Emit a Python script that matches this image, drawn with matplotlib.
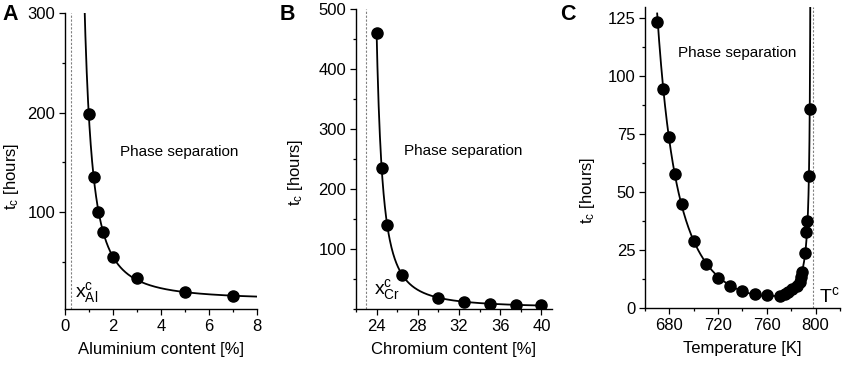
import numpy as np
import matplotlib
matplotlib.use("Agg")
import matplotlib.pyplot as plt
from matplotlib.ticker import MultipleLocator

plt.rcParams['font.family'] = ['Liberation Sans', 'DejaVu Sans']
plt.rcParams['mathtext.fontset'] = 'custom'
plt.rcParams['mathtext.rm'] = 'Liberation Sans'
plt.rcParams['mathtext.it'] = 'Liberation Sans'
plt.rcParams['mathtext.default'] = 'regular'

# data
al_x = [1.0, 1.2, 1.4, 1.6, 2.0, 3.0, 5.0, 7.0]
al_t = [199, 135, 100, 80, 55, 33, 19, 15.5]
al_xc = 0.25

cr_x = [24.0, 24.5, 25.0, 26.5, 30.0, 32.5, 35.0, 37.5, 40.0]
cr_t = [460, 235, 141, 57, 19.5, 12.5, 9, 7.5, 6.5]
cr_xc = 23.0

temp_T = [670, 675, 680, 685, 690, 700, 710, 720, 730, 740, 750, 760,
          771, 775, 777.5, 781, 784.5, 787, 788, 789,
          791, 792.5, 793.3, 794.5, 795.3]
temp_t = [123.5, 94.5, 74, 58, 45, 29.2, 19.1, 13.1, 9.6, 7.5, 6.0, 5.7,
          5.5, 6.3, 7.0, 8.2, 9.5, 11.5, 13.5, 15.8,
          23.7, 33, 37.7, 57, 86]
temp_Tc = 796.2
temp_Tline = 798.0


def power_fit(x, t, xc, xs):
    # t = a/(x-xc)^n + c, grid over n, least squares for a, c
    x = np.asarray(x)
    t = np.asarray(t)
    best = None
    for n in np.linspace(0.5, 3.0, 251):
        A = np.column_stack([(x - xc) ** -n, np.ones_like(x)])
        coef, *_ = np.linalg.lstsq(A, t, rcond=None)
        err = np.sum(((A @ coef) - t) ** 2 / t)
        if best is None or err < best[0]:
            best = (err, n, coef)
    _, n, (a, c) = best
    return a * (xs - xc) ** -n + c


def temp_basis(T, Tc):
    u = (np.asarray(T, dtype=float) - 730) / 60
    return np.column_stack([u ** k for k in range(5)] + [np.log(Tc - np.asarray(T, dtype=float))])


def temp_fit(T, t, Tc, Ts):
    coef, *_ = np.linalg.lstsq(temp_basis(T, Tc), np.log(t), rcond=None)
    return np.exp(temp_basis(Ts, Tc) @ coef)


def style_axis(ax):
    for s in ['top', 'right']:
        ax.spines[s].set_visible(False)
    for s in ['left', 'bottom']:
        ax.spines[s].set_linewidth(1.0)
    ax.tick_params(which='major', direction='out', length=4, width=0.9, labelsize=12, pad=3)
    ax.tick_params(which='minor', direction='out', length=2.5, width=0.9)


fig = plt.figure(figsize=(8.44, 3.66), dpi=100)
axA = fig.add_axes([0.0767, 0.155, 0.2278, 0.8087])
axB = fig.add_axes([0.4218, 0.155, 0.2319, 0.8213])
axC = fig.add_axes([0.7642, 0.1577, 0.231, 0.824])

mk = dict(marker='o', ms=8, color='black', ls='none', zorder=3)
dash = dict(color='gray', ls=(0, (2, 1.5)), lw=0.8)

# panel A
xs = np.linspace(0.6, 8, 400)
axA.plot(xs, power_fit(al_x, al_t, al_xc, xs), color='black', lw=1.3)
axA.plot(al_x, al_t, **mk)
axA.axvline(al_xc, **dash)
axA.set_xlim(0, 8)
axA.set_ylim(2, 300)
axA.xaxis.set_major_locator(MultipleLocator(2))
axA.xaxis.set_minor_locator(MultipleLocator(1))
axA.yaxis.set_minor_locator(MultipleLocator(50))
axA.set_yticks([100, 200, 300])
axA.set_xlabel('Aluminium content [%]', fontsize=12, labelpad=6)
axA.set_ylabel(r'$t_c$ [hours]', fontsize=12)
axA.yaxis.set_label_coords(-0.23, 0.45)
axA.text(2.3, 160, 'Phase separation', fontsize=11, va='center')
axA.text(0.42, 14, r'$x^c_{Al}$', fontsize=14, va='baseline')
style_axis(axA)

# panel B
xs = np.linspace(24, 40, 400)
axB.plot(xs, power_fit(cr_x, cr_t, cr_xc, xs), color='black', lw=1.3)
axB.plot(cr_x, cr_t, **mk)
axB.axvline(cr_xc, **dash)
axB.set_xlim(22, 41)
axB.set_ylim(0, 500)
axB.set_xticks([24, 28, 32, 36, 40])
axB.xaxis.set_minor_locator(MultipleLocator(2))
axB.set_yticks([100, 200, 300, 400, 500])
axB.yaxis.set_minor_locator(MultipleLocator(50))
axB.set_xlabel('Chromium content [%]', fontsize=12, labelpad=6)
axB.set_ylabel(r'$t_c$ [hours]', fontsize=12)
axB.yaxis.set_label_coords(-0.26, 0.454)
axB.text(26.7, 263, 'Phase separation', fontsize=11, va='center')
axB.text(23.7, 25, r'$x^c_{Cr}$', fontsize=14, va='baseline')
style_axis(axB)

# panel C
Ts = np.concatenate([np.linspace(670, 790, 300), temp_Tc - np.geomspace(6, 0.02, 200)])
axC.plot(Ts, temp_fit(temp_T, temp_t, temp_Tc, Ts), color='black', lw=1.3)
axC.plot(temp_T, temp_t, **mk)
axC.axvline(temp_Tline, **dash)
axC.set_xlim(660, 820)
axC.set_ylim(0, 130)
axC.set_xticks([680, 720, 760, 800])
axC.xaxis.set_minor_locator(MultipleLocator(20))
axC.set_yticks([0, 25, 50, 75, 100, 125])
axC.yaxis.set_minor_locator(MultipleLocator(12.5))
axC.set_xlabel('Temperature [K]', fontsize=12, labelpad=6)
axC.set_ylabel(r'$t_c$ [hours]', fontsize=12)
axC.yaxis.set_label_coords(-0.248, 0.392)
axC.text(687.3, 110, 'Phase separation', fontsize=11, va='center')
axC.text(802.7, 2.7, r'$T^c$', fontsize=14, va='baseline')
style_axis(axC)

for lab, xp in zip('ABC', [2, 280, 560]):
    fig.text(xp / 844, 1 - 4 / 366, lab, fontsize=15.5, fontweight='bold', va='top')

fig.savefig('out.png', dpi=100)
